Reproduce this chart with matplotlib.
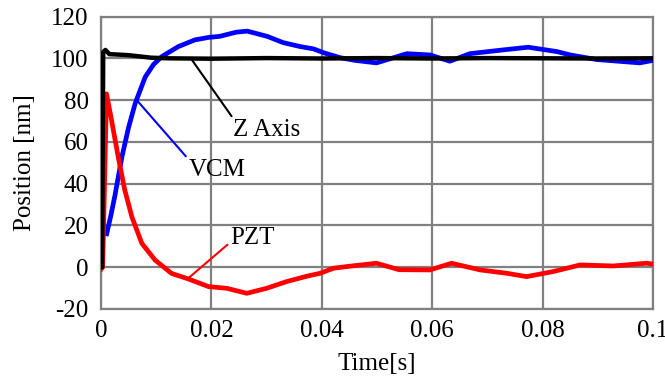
import matplotlib
matplotlib.use('Agg')
import matplotlib.pyplot as plt

plt.rcParams['font.family'] = ['Liberation Serif', 'DejaVu Serif']
plt.rcParams['axes.unicode_minus'] = False

# VCM response (blue)
vcm_t = [0.00103, 0.0018, 0.0025, 0.0038, 0.005, 0.0062, 0.008, 0.0095, 0.011, 0.014,
         0.017, 0.0195, 0.0215, 0.0245, 0.0265, 0.0301, 0.0330, 0.0361, 0.0385, 0.0405,
         0.0433, 0.046, 0.0499, 0.0554, 0.0596, 0.0632, 0.0668, 0.0728, 0.0774, 0.0826,
         0.0850, 0.0898, 0.0976, 0.1]
vcm_v = [16, 25, 34, 53, 67, 78.5, 91, 97, 100.8, 105.6,
         108.8, 110, 110.5, 112.5, 113, 110.5, 107.5, 105.6, 104.5, 102.5,
         100.3, 99, 97.8, 102.2, 101.6, 98.6, 102.2, 104, 105.3, 103.2,
         101.6, 99.4, 97.8, 99]

# PZT response (red)
pzt_t = [0.0, 0.0003, 0.001, 0.0019, 0.0031, 0.0043, 0.0056, 0.0074, 0.0098, 0.0128,
         0.0157, 0.0195, 0.0228, 0.0264, 0.030, 0.0336, 0.0373, 0.0397, 0.0421, 0.0451,
         0.0499, 0.0540, 0.0596, 0.0635, 0.0687, 0.0735, 0.0771, 0.0819, 0.0868, 0.0928,
         0.0988, 0.1]
pzt_v = [-1, 0, 83, 70.5, 53, 37, 24, 11.4, 3.4, -3,
         -5.5, -9.3, -10.1, -12.5, -10.1, -6.9, -4.3, -2.9, -0.5, 0.5,
         1.9, -1.2, -1.3, 1.9, -1.3, -2.9, -4.5, -2.1, 1.1, 0.6,
         1.9, 1.5]

# Z axis (black)
z_t = [0.0, 0.0002, 0.0004, 0.0008, 0.0015, 0.005, 0.009, 0.012, 0.02, 0.03,
       0.04, 0.05, 0.06, 0.07, 0.08, 0.09, 0.1]
z_v = [0, 0, 103, 104, 102, 101.5, 100.3, 100, 99.8, 100.1,
       99.9, 100.1, 99.9, 100.1, 100, 99.9, 100]

xticks = [0, 0.02, 0.04, 0.06, 0.08, 0.1]
xtick_labels = ['0', '0.02', '0.04', '0.06', '0.08', '0.1']
yticks = [-20, 0, 20, 40, 60, 80, 100, 120]

fig = plt.figure(figsize=(6.65, 3.76), dpi=100)
ax = fig.add_axes([0.1519, 0.1782, 0.8301, 0.7779])

ax.plot(vcm_t, vcm_v, color='#0000ff', lw=3.4, zorder=3)
ax.plot(pzt_t, pzt_v, color='#ff0000', lw=3.4, zorder=4)
ax.plot(z_t, z_v, color='black', lw=3.2, zorder=5)

ax.set_xlim(0, 0.1)
ax.set_ylim(-20, 120)
ax.set_xticks(xticks)
ax.set_xticklabels(xtick_labels)
ax.set_yticks(yticks)
ax.tick_params(length=0, labelsize=18)
ax.tick_params(axis='y', pad=9)
ax.tick_params(axis='x', pad=8)
ax.grid(True, color='#808080', lw=1.6)
ax.set_axisbelow(True)
for s in ax.spines.values():
    s.set_color('#808080')
    s.set_linewidth(1.6)

ax.set_xlabel('Time[s]', fontsize=18)
ax.set_ylabel('Position [nm]', fontsize=18)
ax.xaxis.set_label_coords(0.5, -0.15)
ax.yaxis.set_label_coords(-0.118, 0.5)

# labels with leader lines
ax.annotate('Z Axis', xy=(0.0164, 99.5), xytext=(0.0240, 65.7), fontsize=18,
            va='center', ha='left',
            arrowprops=dict(arrowstyle='-', color='black', lw=1.5, shrinkA=0, shrinkB=0,
                            relpos=(0, 1)))
ax.annotate('VCM', xy=(0.00647, 80.0), xytext=(0.0158, 46.5), fontsize=18,
            va='center', ha='left',
            arrowprops=dict(arrowstyle='-', color='#0000ff', lw=1.5, shrinkA=0, shrinkB=0,
                            relpos=(0, 1)))
ax.annotate('PZT', xy=(0.0158, -5.3), xytext=(0.0234, 14.0), fontsize=18,
            va='center', ha='left',
            arrowprops=dict(arrowstyle='-', color='#ff0000', lw=1.5, shrinkA=0, shrinkB=0,
                            relpos=(0, 0.3)))

fig.savefig('out.png', dpi=100)
